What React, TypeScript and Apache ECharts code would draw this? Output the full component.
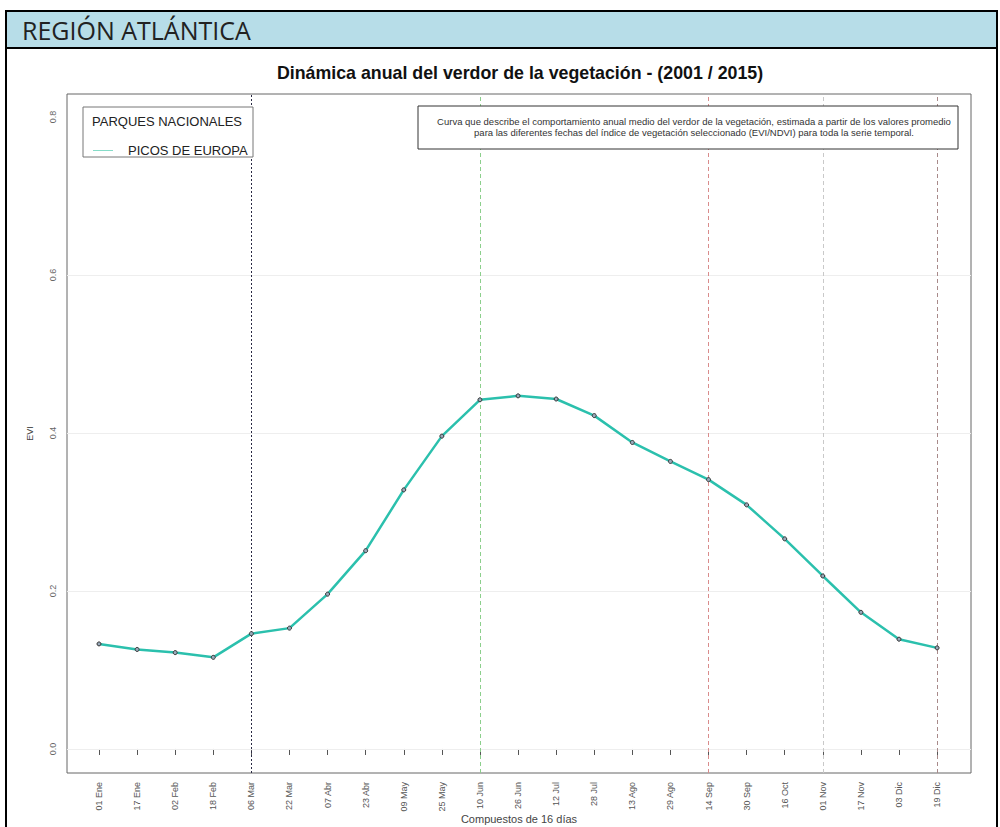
import React, { useEffect, useRef } from "react";
import * as echarts from "echarts";

const categories = [
  "01 Ene", "17 Ene", "02 Feb", "18 Feb", "06 Mar", "22 Mar", "07 Abr", "23 Abr",
  "09 May", "25 May", "10 Jun", "26 Jun", "12 Jul", "28 Jul", "13 Ago", "29 Ago",
  "14 Sep", "30 Sep", "16 Oct", "01 Nov", "17 Nov", "03 Dic", "19 Dic",
];
const eviValues = [
  0.133, 0.126, 0.122, 0.116, 0.146, 0.153, 0.196, 0.251, 0.328, 0.396, 0.442, 0.447,
  0.443, 0.422, 0.388, 0.364, 0.341, 0.309, 0.266, 0.219, 0.173, 0.139, 0.128,
];
const yTicks = [0, 0.2, 0.4, 0.6, 0.8];
const markerDates = ["06 Mar", "10 Jun", "14 Sep", "01 Nov", "19 Dic"];
const markerColors = ["#2a2a44", "#8ccf8c", "#d98c8c", "#c9c9c9", "#a88a8a"];
const seriesName = "PICOS DE EUROPA";
const legendTitle = "PARQUES NACIONALES";
const chartTitle = "Dinámica anual del verdor de la vegetación - (2001 / 2015)";
const headerText = "REGIÓN ATLÁNTICA";
const noteLines = [
  "Curva que describe el comportamiento anual medio del verdor de la vegetación, estimada a partir de los valores promedio",
  "para las diferentes fechas del índice de vegetación seleccionado (EVI/NDVI) para toda la serie temporal.",
];
const xTitle = "Compuestos de 16 días";
const yTitle = "EVI";

const FONT = "'Liberation Sans', Arial, sans-serif";

export default function App() {
  const ref = useRef<HTMLDivElement>(null);
  useEffect(() => {
    if (!ref.current) return;
    const chart = echarts.init(ref.current, null, { renderer: "svg" });
    const idx = categories.map((_, i) => i);
    chart.setOption({
      animation: false,
      backgroundColor: "#ffffff",
      textStyle: { fontFamily: FONT },
      grid: {
        left: 67, right: 29, top: 94, bottom: 54,
        containLabel: false, outerBoundsMode: "none",
        show: true, borderColor: "#666", borderWidth: 1, backgroundColor: "#fff",
      },
      legend: {
        data: [{ name: seriesName, icon: "rect" }],
        left: 88, top: 139, itemWidth: 20, itemHeight: 1,
        itemStyle: { color: "#86dcc8", borderWidth: 0 },
        textStyle: { fontSize: 13, color: "#222", fontFamily: FONT, padding: [0, 0, 0, 10] },
        selectedMode: false, z: 12,
      },
      xAxis: {
        type: "value",
        min: -0.84, max: 22.89,
        name: xTitle, nameLocation: "middle", nameGap: 40, nameMoveOverlap: false,
        nameTextStyle: { fontSize: 11, color: "#444" },
        axisLine: { show: false },
        splitLine: { show: false },
        axisTick: { show: true, length: 6, customValues: idx, lineStyle: { color: "#555" } },
        axisLabel: {
          customValues: idx, rotate: 90, fontSize: 9, color: "#555", margin: 9,
          formatter: (v: number) => categories[Math.round(v)] ?? "",
        },
      },
      yAxis: {
        type: "value",
        min: -0.0304, max: 0.8291,
        name: yTitle, nameLocation: "middle", nameGap: 33, nameRotate: 90, nameMoveOverlap: false,
        nameTextStyle: { fontSize: 9, color: "#444" },
        axisLine: { show: false },
        splitLine: { show: false },
        axisTick: { show: true, length: 6, customValues: yTicks, lineStyle: { color: "#555" } },
        axisLabel: {
          customValues: yTicks, rotate: 90, fontSize: 9, color: "#666", margin: 10,
          formatter: (v: number) => v.toFixed(1),
        },
      },
      series: [
        {
          name: seriesName,
          type: "line",
          data: eviValues.map((v, i) => [i, v]),
          color: "#2bc0ad",
          lineStyle: { width: 2.5, color: "#2bc0ad" },
          symbol: "circle", symbolSize: 4,
          itemStyle: { color: "#9ab", borderColor: "#333", borderWidth: 1 },
          z: 5,
          markLine: {
            silent: true, symbol: ["none", "none"], label: { show: false },
            data: [
              ...yTicks.slice(0, 4).map((v) => ({
                yAxis: v, lineStyle: { color: "#eeeeee", type: "solid", width: 1 },
              })),
              ...markerDates.map((d, k) => ({
                xAxis: categories.indexOf(d),
                lineStyle: { color: markerColors[k], type: k === 0 ? [2, 2] : [4, 3], width: 1 },
              })),
            ],
          },
        },
      ],
      graphic: [
        { type: "rect", shape: { x: 6, y: 11, width: 991, height: 37 }, style: { fill: "#b7dde8", stroke: "#000", lineWidth: 2 } },
        { type: "text", x: 22, y: 30, style: { text: headerText, font: "25px 'Open Sans', Lato, sans-serif", fill: "#222", verticalAlign: "middle" } },
        { type: "line", shape: { x1: 6, y1: 48, x2: 6, y2: 827 }, style: { stroke: "#000", lineWidth: 2 } },
        { type: "line", shape: { x1: 997, y1: 48, x2: 997, y2: 827 }, style: { stroke: "#000", lineWidth: 2 } },
        { type: "text", x: 520, y: 73, style: { text: chartTitle, font: `bold 17.8px ${FONT}`, fill: "#111", align: "center", verticalAlign: "middle" } },
        { type: "rect", z: 10, shape: { x: 83, y: 107, width: 170, height: 50 }, style: { fill: "#fff", stroke: "#777", lineWidth: 1 } },
        { type: "text", z: 11, x: 92, y: 121, style: { text: legendTitle, font: `13px ${FONT}`, fill: "#222", verticalAlign: "middle" } },
        { type: "rect", z: 10, shape: { x: 418, y: 106, width: 540, height: 43 }, style: { fill: "#fff", stroke: "#333", lineWidth: 1 } },
        { type: "text", z: 11, x: 694, y: 121, style: { text: noteLines[0], font: `9.5px ${FONT}`, fill: "#333", align: "center", verticalAlign: "middle" } },
        { type: "text", z: 11, x: 694, y: 132, style: { text: noteLines[1], font: `9.5px ${FONT}`, fill: "#333", align: "center", verticalAlign: "middle" } },
      ],
    });
    return () => chart.dispose();
  }, []);
  return (
    <div
      ref={ref}
      style={{ position: "absolute", left: 0, top: 0, width: 1000, height: 827 }}
    />
  );
}
